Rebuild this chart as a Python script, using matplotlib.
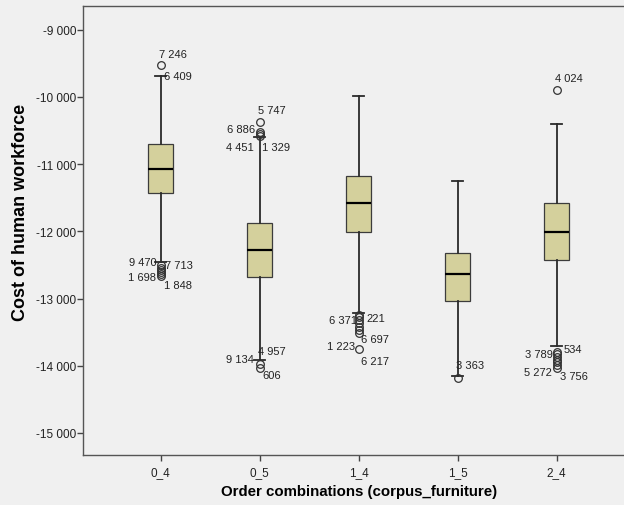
import matplotlib
matplotlib.use("Agg")
import matplotlib.pyplot as plt
from matplotlib.ticker import FuncFormatter, MultipleLocator

plt.rcParams['font.family'] = ['Liberation Sans', 'DejaVu Sans']
plt.rcParams['axes.unicode_minus'] = False

# box statistics
categories = ['0_4', '0_5', '1_4', '1_5', '2_4']
q1 = [-11435, -12685, -12006, -13042, -12427]
medians = [-11078, -12274, -11574, -12631, -12006]
q3 = [-10701, -11881, -11172, -12318, -11579]
whislo = [-12460, -13911, -13220, -14158, -13711]
whishi = [-9693, -10592, -9990, -11256, -10405]
fliers = [
    [-9525, -12505, -12540, -12575, -12610, -12640, -12665],
    [-10369, -10520, -10550, -10575, -13975, -14039],
    [-13240, -13280, -13320, -13370, -13420, -13470, -13510, -13752],
    [-14183],
    [-9893, -13790, -13830, -13870, -13910, -13950, -13990, -14030],
]

# case labels next to outliers
label_cat = [0, 0, 0, 0, 0, 0, 1, 1, 1, 1, 1, 1, 1, 2, 2, 2, 2, 2, 3, 4, 4, 4, 4, 4]
label_val = [-9525, -9693, -12505, -12505, -12640, -12665,
             -10369, -10520, -10575, -10575, -13975, -13975, -14039,
             -13240, -13240, -13510, -13752, -13752,
             -14183,
             -9893, -13790, -13790, -14030, -14030]
label_txt = ['7 246', '6 409', '9 470', '7 713', '1 698', '1 848',
             '5 747', '6 886', '4 451', '1 329', '9 134', '4 957', '606',
             '6 371', '221', '6 697', '1 223', '6 217',
             '3 363',
             '4 024', '3 789', '534', '5 272', '3 756']
# placement: (ha, dx px, dy px)
label_pos = [('left', -2, 11), ('left', 3, 0), ('right', -4, 3), ('left', 4, 0),
             ('right', -5, -3), ('left', 3, -9),
             ('left', -2, 12), ('right', -5, 2.6), ('right', -6.5, -11), ('left', 2, -11),
             ('right', -5.5, 5.4), ('left', -2, 13), ('left', 3, -6.7),
             ('right', -1.7, -5), ('left', 7.7, -3.6), ('left', 2.7, -6.4),
             ('right', -4, 2.6), ('left', 2.7, -11.7),
             ('left', -1.7, 13),
             ('left', -1.7, 11.7), ('right', -4, -2), ('left', 7.3, 3),
             ('right', -4.4, -4), ('left', 3.3, -8)]

stats = []
for i, c in enumerate(categories):
    stats.append(dict(label=c, q1=q1[i], med=medians[i], q3=q3[i],
                      whislo=whislo[i], whishi=whishi[i], fliers=fliers[i]))

bg = '#f0f0f0'
fig = plt.figure(figsize=(6.24, 5.06), dpi=100, facecolor=bg)
ax = fig.add_axes([0.1338, 0.0994, 0.8822, 0.8874], facecolor=bg)

ax.bxp(stats, positions=range(len(categories)), widths=0.25, capwidths=0.11,
       patch_artist=True,
       boxprops=dict(facecolor='#d4d09c', edgecolor='#3c3c3c', linewidth=0.9),
       medianprops=dict(color='black', linewidth=1.6),
       whiskerprops=dict(color='#2a2a2a', linewidth=1.3),
       capprops=dict(color='#2a2a2a', linewidth=1.3),
       flierprops=dict(marker='o', markersize=5.5, markerfacecolor='none',
                       markeredgecolor='#333333', markeredgewidth=0.9))

for c, v, t, (ha, dx, dy) in zip(label_cat, label_val, label_txt, label_pos):
    ax.annotate(t, (c, v), xytext=(dx, dy), textcoords='offset pixels',
                ha=ha, va='center', fontsize=8, color='#222222')

ax.set_xlim(-0.781, 4.781)
ax.set_ylim(-15324, -8643)
ax.yaxis.set_major_locator(MultipleLocator(1000))
ax.yaxis.set_major_formatter(FuncFormatter(lambda v, p: f"{int(v):,}".replace(",", " ")))
ax.set_xticks(range(len(categories)))
ax.set_xticklabels(categories)

for s in ['top', 'left', 'bottom', 'right']:
    ax.spines[s].set_color('#555555')
    ax.spines[s].set_linewidth(1.0)

ax.tick_params(axis='y', direction='out', length=4, width=1, pad=1,
               labelsize=8.5, colors='#444444', labelcolor='#222222')
ax.tick_params(axis='x', direction='out', length=4, width=1, pad=4,
               labelsize=8.5, colors='#444444', labelcolor='#222222')

ax.set_ylabel('Cost of human workforce', fontsize=13, fontweight='bold')
ax.yaxis.set_label_coords(-0.114, 0.542)
ax.yaxis.label.set_va('center')
ax.set_xlabel('Order combinations (corpus_furniture)', fontsize=10.8, fontweight='bold')
ax.xaxis.set_label_coords(0.501, -0.081)
ax.xaxis.label.set_va('center')

fig.savefig('out.png', dpi=100, facecolor=bg)
